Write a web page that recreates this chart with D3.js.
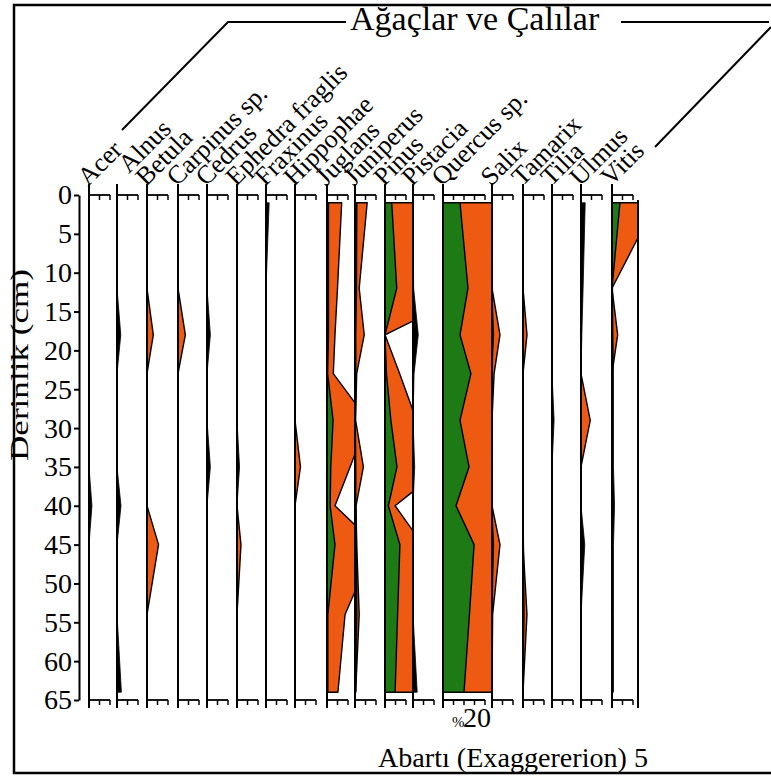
<!DOCTYPE html>
<html>
<head>
<meta charset="utf-8">
<script src="https://cdn.jsdelivr.net/npm/d3@7"></script>
<style>
  body { margin: 0; background: #fff; }
  text { font-family: "Liberation Serif", "Times New Roman", serif; fill: #000; }
</style>
</head>
<body>
<div id="chart"></div>
<script>
// taxa, in drawing order
var taxa = ["Acer", "Alnus", "Betula", "Carpinus sp.", "Cedrus", "Ephedra fraglis", "Fraxinus",
  "Hippophae", "Juglans", "Juniperus", "Pinus", "Pistacia", "Quercus sp.", "Salix", "Tamarix",
  "Tilia", "Ulmus", "Vitis"];

// sample depths (cm)
var depths = [1, 12, 18, 23, 29, 35, 40, 45, 54, 64];
var depthTicks = [0, 5, 10, 15, 20, 25, 30, 35, 40, 45, 50, 55, 60, 65];

// percentages, one value per sample depth
// black silhouettes
var blackValues = {
  "Acer":      [0, 0, 0, 0, 0, 0, 1.4, 0, 0, 0],
  "Alnus":     [0, 0, 1.8, 0, 0, 0, 1.9, 0, 0, 2.1],
  "Cedrus":    [0, 0, 1.6, 0, 0, 1.6, 0, 0, 0, 0],
  "Ephedra fraglis": [0, 0, 0, 0, 0, 1.2, 0, 0, 0, 0],
  "Fraxinus":  [1.5, 0, 0, 0, 0, 0, 0, 0, 0, 0],
  "Juniperus": [1.0, 0.8, 0.5, 0.5, 0.2, 0.5, 0.5, 0.8, 1.0, 0.5],
  "Pistacia":  [0, 0.3, 2.5, 0.5, 0, 0.8, 0, 0, 0, 2.0],
  "Salix":     [0, 0, 0.8, 0, 0, 0, 0, 0.8, 0, 0],
  "Tamarix":   [0, 0, 0, 0, 0, 0, 0, 0.3, 0.6, 0],
  "Tilia":     [0, 0, 0, 0, 1.0, 0, 0, 0, 0, 0],
  "Ulmus":     [2.0, 1.0, 0.4, 0, 0, 0, 0, 1.8, 0, 0],
  "Vitis":     [0, 0.3, 0.5, 0.7, 0.7, 0.7, 1.2, 0.7, 0.7, 0.7]
};

// green curves (main taxa)
var greenValues = {
  "Juglans":     [0.7, 0.7, 0.7, 0.3, 2.9, 1.8, 1.5, 3.8, 0.4, 0.4],
  "Pinus":       [3.2, 5.6, 0, 0.7, 2.8, 5.7, 1.6, 7.1, 6.0, 4.8],
  "Quercus sp.": [8.1, 11.9, 8.1, 13.3, 8.1, 12.4, 6.2, 14.8, 12.6, 10.0],
  "Vitis":       [3.8, 0, 0, 0, 0, 0, 0, 0, 0, 0]
};

// orange exaggeration curves (x5)
var orangeValues = {
  "Betula":      [0, 0, 3.0, 0, 0, 0, 0, 5.5, 0, 0],
  "Carpinus sp.": [0, 0, 3.5, 0, 0, 0, 0, 0, 0, 0],
  "Ephedra fraglis": [0, 0, 0, 0, 0, 0, 0, 1.9, 0, 0],
  "Hippophae":   [0, 0, 0, 0, 0, 2.6, 0, 0, 0, 0],
  "Juglans":     [7.0, 5.0, 3.8, 3.0, 19.5, 11.0, 3.8, 23.0, 8.6, 5.2],
  "Juniperus":   [5.8, 2.0, 4.4, 0.8, 0.3, 4.0, 0.5, 0.8, 2.0, 0.3],
  "Pinus":       [20, 45, 0, 7, 15, 28, 4.8, 18, 20, 18],
  "Quercus sp.": [40, 59, 40, 66, 40, 62, 31, 74, 63, 50],
  "Salix":       [0, 0, 3.8, 1.0, 0, 0, 0, 3.8, 0.3, 0],
  "Tamarix":     [0, 0, 1.9, 0, 0, 0, 0, 0, 1.9, 0],
  "Ulmus":       [0, 0, 0, 0, 4.4, 0, 0, 0, 0, 0],
  "Vitis":       [21, 0, 2.7, 0, 0, 0, 0, 0, 0, 0]
};

// scale bar length (%) per column
var scaleMax = { "Quercus sp.": 20 };

// ---- layout ----
var W = 771, H = 776;
var colX = [89, 117, 147, 178, 207, 237, 266, 295, 327, 355, 385, 413, 443, 492, 523, 552, 581, 612];
var colEnd = 638;
var pxPerTen = 21;   // 10 % = 21 px
var orange = "#ef5a12", green = "#1e7a14";

var svg = d3.select("#chart")
  .append("svg")
    .attr("width", W)
    .attr("height", H);

svg.append("rect").attr("width", W).attr("height", H).attr("fill", "#fff");

// frame
svg.append("path")
  .attr("d", "M800,5H14V773H800")
  .attr("fill", "none")
  .attr("stroke", "#000")
  .attr("stroke-width", 2.5);

// title + brace lines
svg.append("text")
  .attr("x", 350)
  .attr("y", 30)
  .attr("font-size", "34px")
  .text("Ağaçlar ve Çalılar");

svg.append("path")
  .attr("d", "M122,130L228,22H346M621,22H769M771,27L655,147")
  .attr("fill", "none")
  .attr("stroke", "#000")
  .attr("stroke-width", 2);

// depth axis
var y = d3.scaleLinear()
  .domain([0, 65])
  .range([195, 700]);

var yAxis = svg.append("g")
  .attr("transform", "translate(79,0)")
  .call(d3.axisLeft(y).tickValues(depthTicks).tickSize(5).tickSizeOuter(0).tickPadding(2));
yAxis.select(".domain").attr("stroke-width", 2);
yAxis.selectAll(".tick line").attr("stroke-width", 2);
yAxis.selectAll(".tick text")
  .attr("font-size", "28px");

svg.append("text")
  .attr("transform", "translate(28,365) rotate(-90)")
  .attr("text-anchor", "middle")
  .attr("font-size", "25px")
  .attr("textLength", 192)
  .attr("lengthAdjust", "spacingAndGlyphs")
  .text("Derinlik (cm)");

var defs = svg.append("defs");

taxa.forEach(function(name, i) {
  var bx = colX[i];
  var right = i < taxa.length - 1 ? colX[i + 1] : colEnd;
  var maxPct = scaleMax[name] || 10;

  var x = d3.scaleLinear()
    .domain([0, 10])
    .range([bx, bx + pxPerTen]);

  defs.append("clipPath")
    .attr("id", "clip" + i)
    .append("rect")
      .attr("x", bx)
      .attr("y", 180)
      .attr("width", right - bx)
      .attr("height", 540);

  var area = d3.area()
    .x0(bx)
    .x1(function(v) { return x(v); })
    .y(function(v, j) { return y(depths[j]); });

  var g = svg.append("g").attr("clip-path", "url(#clip" + i + ")");

  if (orangeValues[name]) {
    g.append("path")
      .datum(orangeValues[name])
      .attr("d", area)
      .attr("fill", orange)
      .attr("stroke", "#000")
      .attr("stroke-width", 1.4)
      .attr("stroke-linejoin", "round");
  }
  if (greenValues[name]) {
    g.append("path")
      .datum(greenValues[name])
      .attr("d", area)
      .attr("fill", green)
      .attr("stroke", "#000")
      .attr("stroke-width", 1.4)
      .attr("stroke-linejoin", "round");
  }
  if (blackValues[name]) {
    g.append("path")
      .datum(blackValues[name])
      .attr("d", area)
      .attr("fill", "#000")
      .attr("stroke", "#000")
      .attr("stroke-width", 0.8);
  }

  // baseline
  svg.append("line")
    .attr("x1", bx).attr("x2", bx)
    .attr("y1", 184).attr("y2", 708)
    .attr("stroke", "#000")
    .attr("stroke-width", 2);

  // scale bars top and bottom
  var ticks = d3.range(0, maxPct + 1, 5);
  [195, 700].forEach(function(yy) {
    svg.append("line")
      .attr("x1", bx).attr("x2", x(maxPct))
      .attr("y1", yy).attr("y2", yy)
      .attr("stroke", "#000")
      .attr("stroke-width", 1.8);
    svg.selectAll(null)
      .data(ticks.slice(1))
      .enter()
      .append("line")
        .attr("x1", function(t) { return x(t); })
        .attr("x2", function(t) { return x(t); })
        .attr("y1", yy).attr("y2", yy + 5)
        .attr("stroke", "#000")
        .attr("stroke-width", 1.5);
  });

  // taxon label
  svg.append("text")
    .attr("transform", "translate(" + (bx - 1) + ",187) rotate(-45)")
    .attr("dx", name === "Alnus" ? 18 : 0)
    .attr("font-size", "26px")
    .text(name);
});

// closing line of the last column
svg.append("line")
  .attr("x1", colEnd).attr("x2", colEnd)
  .attr("y1", 200).attr("y2", 708)
  .attr("stroke", "#000")
  .attr("stroke-width", 2);

// scale note
svg.append("text")
  .attr("x", 452)
  .attr("y", 727)
  .attr("font-size", "15px")
  .text("%");
svg.append("text")
  .attr("x", 463)
  .attr("y", 727)
  .attr("font-size", "28px")
  .text("20");

svg.append("text")
  .attr("x", 378)
  .attr("y", 767)
  .attr("font-size", "27px")
  .attr("textLength", 270)
  .attr("lengthAdjust", "spacingAndGlyphs")
  .text("Abartı (Exaggererion) 5");
</script>
</body>
</html>
